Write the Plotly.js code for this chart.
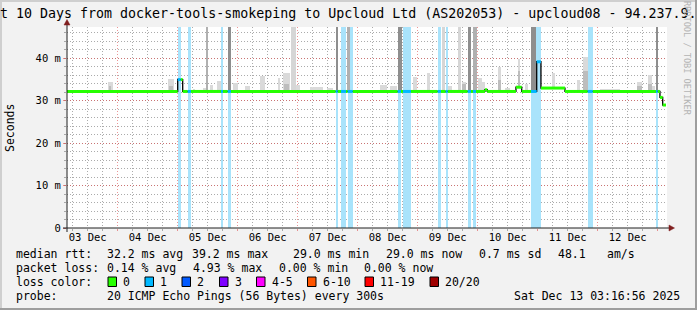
<!DOCTYPE html>
<html>
<head>
<meta charset="utf-8">
<script src="https://cdn.plot.ly/plotly-3.0.1.min.js"></script>
<style>html,body{margin:0;padding:0;background:#f2f2f2;overflow:hidden}</style>
</head>
<body>
<div id="chart" style="width:697px;height:310px"></div>
<script>
// ---- data (time in hours since 2025-12-03 00:00, values in ms) ----
const dayLabels = ['03 Dec','04 Dec','05 Dec','06 Dec','07 Dec','08 Dec','09 Dec','10 Dec','11 Dec','12 Dec'];
const dayNoon = [12,36,60,84,108,132,156,180,204,228];
const yTickVals = [0,10,20,30,40];
const yTickText = ['0','10 m','20 m','30 m','40 m'];
const timeStart = 3.72;
const timeEnd = 243.72;
const dataEnd = 243.3;
const yMax = 47.4;

// median rtt (step function)
const medianTime  = [3.72, 48.0, 50.0, 170.9, 171.8, 183.3, 185.6, 191.6, 193.3, 202.9, 240.9, 242.0];
const medianValue = [32.2, 35.0, 32.2, 32.6, 32.2, 33.2, 32.2, 39.2, 33.0, 32.2, 30.8, 29.0];

// periods with packet loss 1/20
const lossStart = [48.0, 52.0, 65.3, 68.0, 111.2, 113.3, 116.0, 136.0, 138.1, 152.0, 155.2, 164.0, 166.1, 189.3, 212.0, 239.3];
const lossEnd   = [49.2, 53.3, 66.1, 69.3, 112.0, 115.3, 118.0, 137.3, 141.3, 153.3, 156.0, 165.3, 167.3, 193.3, 214.0, 240.0];

// smoke: single pings above median
const spikeStart = [11.6,20.0,25.3,44.0,54.0,58.1,61.0,63.6,70.0,75.0,81.0,88.0,90.0,95.3,101.0,107.7,129.0,133.0,142.0,147.7,156.0,161.7,168.0,169.6,176.0,179.0,184.0,186.9,197.6,207.6,210.0,217.0,231.6,236.0,237.6];
const spikeEnd   = [13.3,22.0,26.0,46.6,55.0,60.1,62.2,65.3,72.0,77.0,83.0,89.0,93.0,97.0,106.0,110.0,131.6,135.6,143.7,148.9,157.6,163.3,169.6,171.0,177.2,181.0,185.0,188.1,198.9,208.9,212.0,225.0,233.6,237.6,238.9];
const spikeTop   = [32.6,34.5,32.6,35.1,32.8,32.9,33.7,34.6,34.1,33.5,35.8,35.3,36.5,33.7,33.2,32.9,33.7,33.5,35.5,36.5,33.5,34.5,35.4,34.5,38.0,33.0,39.8,34.0,36.5,35.0,40.4,32.7,34.5,36.1,33.5];
// denser smoke cores
const coreStart = [20.5,44.5,90.5,161.7,176.0,184.0,210.0,231.6,236.0];
const coreEnd   = [21.5,46.0,92.5,163.3,177.2,185.0,212.0,233.6,237.6];
const coreTop   = [33.6,33.5,34.0,34.0,35.0,37.0,37.0,33.5,34.0];

// smoke reaching beyond the top of the graph
const tallDarkStart  = [68.2, 111.2, 136.0, 164.0, 189.3, 239.3];
const tallDarkEnd    = [69.2, 112.0, 137.6, 165.3, 191.3, 240.2];
const tallMidStart   = [59.3, 115.6, 166.0];
const tallMidEnd     = [60.2, 117.0, 167.6];
const tallLightStart = [93.3, 153.7, 160.0];
const tallLightEnd   = [95.2, 154.9, 161.3];

// legend
const lossLabels = ['0','1','2','3','4-5','6-10','11-19','20/20'];
const lossColors = ['#26ff00','#00b8ff','#0059ff','#7e00ff','#ff00ff','#ff5500','#ff0000','#a00000'];

// ---- helpers ----
function medianAt(t){
  let v = medianValue[0];
  for (let i=0;i<medianTime.length;i++){ if (t >= medianTime[i]-1e-9) v = medianValue[i]; }
  return v;
}
function inLoss(t){
  for (let i=0;i<lossStart.length;i++){ if (t >= lossStart[i]-1e-9 && t < lossEnd[i]-1e-9) return true; }
  return false;
}
function barsFrom(starts, ends, tops, baseFn, color, name){
  return {
    type:'bar', name:name, showlegend:false, hoverinfo:'skip',
    x: starts.map((s,i)=>(s+ends[i])/2),
    width: starts.map((s,i)=>ends[i]-s),
    base: starts.map((s,i)=>baseFn(s,i)),
    y: starts.map((s,i)=>(tops ? tops[i] : yMax) - baseFn(s,i)),
    marker:{color:color, line:{width:0}},
    xaxis:'x', yaxis:'y'
  };
}

// ---- traces ----
const traces = [];
traces.push(barsFrom(lossStart, lossEnd, null, ()=>0, '#a9e3fb', 'loss'));
traces.push(barsFrom(spikeStart, spikeEnd, spikeTop, (s)=>medianAt(s), '#dadada', 'smoke'));
traces.push(barsFrom(coreStart, coreEnd, coreTop, (s)=>medianAt(s), '#bdbdbd', 'smoke core'));
traces.push(barsFrom(tallLightStart, tallLightEnd, null, (s)=>medianAt(s), '#d6d6d6', 'tall light'));
traces.push(barsFrom(tallMidStart, tallMidEnd, null, (s)=>medianAt(s), '#b0b0b0', 'tall mid'));
traces.push(barsFrom(tallDarkStart, tallDarkEnd, null, (s)=>medianAt(s), '#8e8e8e', 'tall dark'));

// black step line (vertical transitions)
traces.push({
  type:'scatter', mode:'lines', hoverinfo:'skip', showlegend:false,
  x: medianTime.concat([dataEnd]), y: medianValue.concat([medianValue[medianValue.length-1]]),
  line:{shape:'hv', color:'#000', width:1.3}, xaxis:'x', yaxis:'y'
});

// colored median segments
const bps = Array.from(new Set(medianTime.concat(lossStart, lossEnd, [dataEnd]))).filter(t=>t>=timeStart && t<=dataEnd).sort((a,b)=>a-b);
const segG = {x:[],y:[]}, segB = {x:[],y:[]};
for (let i=0;i<bps.length-1;i++){
  const a=bps[i], b=bps[i+1], v=medianAt(a);
  const s = inLoss(a) ? segB : segG;
  s.x.push(a,b,null); s.y.push(v,v,null);
}
traces.push({type:'scatter',mode:'lines',hoverinfo:'skip',showlegend:false,x:segG.x,y:segG.y,line:{color:'#26ff00',width:3},xaxis:'x',yaxis:'y'});
traces.push({type:'scatter',mode:'lines',hoverinfo:'skip',showlegend:false,x:segB.x,y:segB.y,line:{color:'#00b8ff',width:3},xaxis:'x',yaxis:'y'});
// anchor trace for label axis
traces.push({type:'scatter',mode:'markers',x:[dayNoon[0]],y:[null],xaxis:'x2',yaxis:'y',showlegend:false,hoverinfo:'skip'});

// ---- layout ----
const L=67,R=667,T=27,B=228;
const PX = x => (x-L)/(R-L);
const PY = y => (B-y)/(B-T);
const mono = 'DejaVu Sans Mono';
const legendFont = {family:mono, size:11.5, color:'#000'};
const gridMajor = 'rgba(222,79,79,0.6)';
const gridMinor = 'rgba(143,143,143,0.75)';

const ann = [];
function txt(x,y,t,opts){ ann.push(Object.assign({xref:'paper',yref:'paper',x:PX(x),y:PY(y),text:t,showarrow:false,xanchor:'left',yanchor:'middle',borderpad:0,font:legendFont},opts||{})); }
txt(15,254,'median rtt:'); txt(106,254,'32.2 ms avg'); txt(191,254,'39.2 ms max'); txt(292,254,'29.0 ms min');
txt(385,254,'29.0 ms now'); txt(478,254,'0.7 ms sd'); txt(557,254,'48.1'); txt(606,254,'am/s');
txt(15,268,'packet loss:'); txt(106,268,'0.14 % avg'); txt(192,268,'4.93 % max'); txt(278,268,'0.00 % min'); txt(363,268,'0.00 % now');
txt(15,282,'loss color:');
const boxX = [108,145,182,219.5,256.5,307.5,365,430];
const shapes = [];
lossLabels.forEach((lab,i)=>{
  shapes.push({type:'rect',xref:'paper',yref:'paper',x0:PX(boxX[i]),x1:PX(boxX[i]+8.5),y0:PY(286.5),y1:PY(277),fillcolor:lossColors[i],line:{color:'#000',width:1},layer:'above'});
  txt(boxX[i]+14,282,lab);
});
txt(15,296,'probe:'); txt(106,296,'20 ICMP Echo Pings (56 Bytes) every 300s');
txt(681,296,'Sat Dec 13 03:16:56 2025',{xanchor:'right'});
// y axis unit label
ann.push({xref:'paper',yref:'paper',x:PX(10),y:PY(128),text:'Seconds',textangle:-90,showarrow:false,xanchor:'center',yanchor:'middle',borderpad:0,font:legendFont});
// watermark
ann.push({xref:'paper',yref:'paper',x:PX(687),y:PY(58),text:'RRDTOOL / TOBI OETIKER',textangle:90,showarrow:false,xanchor:'center',yanchor:'middle',font:{family:mono,size:8.6,color:'#b4b4b4'}});

// axis lines & arrows
shapes.push({type:'line',xref:'paper',yref:'paper',x0:PX(63),x1:PX(670),y0:PY(228),y1:PY(228),line:{color:'#1f1f1f',width:1},layer:'above'});
shapes.push({type:'line',xref:'paper',yref:'paper',x0:PX(67),x1:PX(67),y0:PY(232),y1:PY(24),line:{color:'#1f1f1f',width:1},layer:'above'});
shapes.push({type:'path',xref:'paper',yref:'paper',path:`M ${PX(669)} ${PY(225)} L ${PX(674.5)} ${PY(228)} L ${PX(669)} ${PY(231)} Z`,fillcolor:'#801f1f',line:{color:'#801f1f',width:0.5},layer:'above'});
shapes.push({type:'path',xref:'paper',yref:'paper',path:`M ${PX(64)} ${PY(25)} L ${PX(67)} ${PY(19.5)} L ${PX(70)} ${PY(25)} Z`,fillcolor:'#801f1f',line:{color:'#801f1f',width:0.5},layer:'above'});
// image frame shading
shapes.push({type:'rect',xref:'paper',yref:'paper',x0:PX(0),x1:PX(697),y0:PY(0),y1:PY(2),fillcolor:'#cfcfcf',line:{width:0},layer:'below'});
shapes.push({type:'rect',xref:'paper',yref:'paper',x0:PX(0),x1:PX(2),y0:PY(0),y1:PY(310),fillcolor:'#cfcfcf',line:{width:0},layer:'below'});
shapes.push({type:'rect',xref:'paper',yref:'paper',x0:PX(0),x1:PX(697),y0:PY(308),y1:PY(310),fillcolor:'#9e9e9e',line:{width:0},layer:'below'});
shapes.push({type:'rect',xref:'paper',yref:'paper',x0:PX(695),x1:PX(697),y0:PY(0),y1:PY(310),fillcolor:'#9e9e9e',line:{width:0},layer:'below'});

const layout = {
  width:697, height:310,
  margin:{l:L, r:697-R, t:T, b:310-B, pad:0},
  paper_bgcolor:'#f2f2f2', plot_bgcolor:'#ffffff',
  barmode:'overlay', bargap:0, showlegend:false,
  title:{text:'t 10 Days from docker-tools-smokeping to Upcloud Ltd (AS202053) - upcloud08 - 94.237.9.',
    font:{family:mono,size:13.3,color:'#000'}, x:0, xref:'container', xanchor:'left',
    y:1-13/310, yref:'container', yanchor:'middle', pad:{l:0,r:0,t:0,b:0}},
  xaxis:{range:[timeStart,timeEnd], tickmode:'linear', tick0:0, dtick:24, showticklabels:false,
    showgrid:true, gridcolor:gridMajor, griddash:'1px,2px', gridwidth:1,
    ticks:'outside', ticklen:2, tickcolor:gridMajor, zeroline:false, showline:false,
    minor:{tick0:0, dtick:6, showgrid:true, gridcolor:gridMinor, griddash:'1px,2px', gridwidth:1, ticks:'outside', ticklen:2, tickcolor:gridMinor}},
  xaxis2:{overlaying:'x', anchor:'y', side:'bottom', range:[timeStart,timeEnd], tickmode:'array', tickvals:dayNoon, ticktext:dayLabels,
    showgrid:false, zeroline:false, showline:false, ticks:'', ticklabelstandoff:1,
    tickfont:{family:mono,size:10.5,color:'#000'}},
  yaxis:{range:[0,yMax], tickmode:'array', tickvals:yTickVals, ticktext:yTickText,
    showgrid:true, gridcolor:gridMajor, griddash:'1px,2px', gridwidth:1,
    ticks:'outside', ticklen:3, tickcolor:gridMajor, zeroline:false, showline:false,
    tickfont:{family:mono,size:10.5,color:'#000'},
    minor:{tick0:0, dtick:2, showgrid:true, gridcolor:gridMinor, griddash:'1px,2px', gridwidth:1, ticks:'outside', ticklen:2, tickcolor:gridMinor}},
  annotations:ann, shapes:shapes
};

Plotly.newPlot('chart', traces, layout, {staticPlot:true, displayModeBar:false});
</script>
</body>
</html>
